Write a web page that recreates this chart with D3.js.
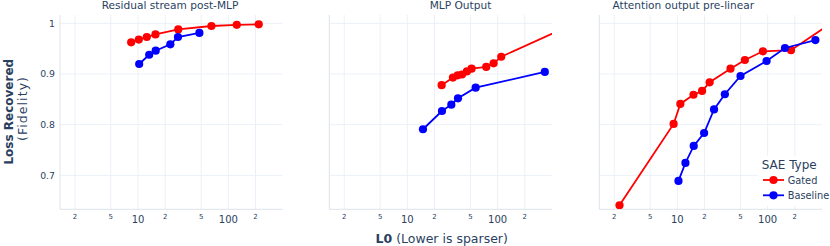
<!DOCTYPE html>
<html>
<head>
<meta charset="utf-8">
<script src="https://cdn.jsdelivr.net/npm/d3@7"></script>
<style>
  body { margin: 0; background: #fff; }
  svg { display: block; font-family: "DejaVu Sans", Verdana, sans-serif; }
</style>
</head>
<body>
<div id="chart"></div>
<script>
// values
var panelTitles = ["Residual stream post-MLP", "MLP Output", "Attention output pre-linear"];
var seriesNames = ["Gated", "Baseline"];
var seriesColors = ["#ff0000", "#0000ff"];

// Residual stream post-MLP
var resGatedL0 = [8.4, 10.2, 12.5, 15.6, 27.9, 65, 124, 217];
var resGatedFid = [0.9625, 0.968, 0.973, 0.978, 0.988, 0.9947, 0.997, 0.998];
var resBaseL0 = [10.3, 13.3, 15.7, 22.8, 27.7, 47.8];
var resBaseFid = [0.9197, 0.938, 0.946, 0.9586, 0.973, 0.981];

// MLP Output (last gated point lies past the right edge)
var mlpGatedL0 = [24.0, 32.0, 36.1, 40.3, 45.7, 51.5, 74.8, 90.3, 109.6, 700];
var mlpGatedFid = [0.878, 0.893, 0.8974, 0.899, 0.905, 0.9105, 0.914, 0.921, 0.934, 0.999];
var mlpBaseL0 = [14.9, 24.2, 30.7, 36.4, 57.1, 333];
var mlpBaseFid = [0.791, 0.827, 0.8395, 0.852, 0.873, 0.904];

// Attention output pre-linear
var attnGatedL0 = [2.29, 9.1, 10.8, 15.1, 18.8, 22.8, 38.8, 56.0, 88.7, 181.6, 600];
var attnGatedFid = [0.641, 0.8014, 0.841, 0.859, 0.8665, 0.8836, 0.9105, 0.9276, 0.9448, 0.947, 1.009];
var attnBaseL0 = [10.3, 12.3, 15.2, 19.8, 25.5, 33.6, 50.1, 97.4, 155.6, 338];
var attnBaseFid = [0.689, 0.7245, 0.758, 0.7836, 0.830, 0.860, 0.896, 0.9256, 0.9513, 0.967];

var yTicks = [0.7, 0.8, 0.9, 1];
var xTicks = [2, 5, 10, 20, 50, 100, 200];
var xTickLabels = ["2", "5", "10", "2", "5", "100", "2"];

var width = 830, height = 246;
var panelLeft = [60, 329.3, 599.3];
var panelW = 222.7;
var plotTop = 15, plotBottom = 209.3;
var titleX = [170, 460.5, 683.3];
var textColor = "#2a3f5f";
var gridColor = "#ebf0f8";

function zip(xs, ys) {
  return xs.map(function(x, i){ return {x: x, y: ys[i]}; });
}

var panels = [
  [zip(resGatedL0, resGatedFid), zip(resBaseL0, resBaseFid)],
  [zip(mlpGatedL0, mlpGatedFid), zip(mlpBaseL0, mlpBaseFid)],
  [zip(attnGatedL0, attnGatedFid), zip(attnBaseL0, attnBaseFid)]
];

var svg = d3.select("#chart")
  .append("svg")
  .attr("width", width)
  .attr("height", height);

var y = d3.scaleLinear().domain([0.633, 1.0164]).range([plotBottom, plotTop]);

panels.forEach(function(series, p) {
  var x = d3.scaleLog().domain([1.368, 400]).range([0, panelW]);

  var g = svg.append("g")
    .attr("transform", "translate(" + panelLeft[p] + ",0)");

  g.append("clipPath")
    .attr("id", "clip" + p)
    .append("rect")
    .attr("x", 0).attr("y", plotTop)
    .attr("width", panelW).attr("height", plotBottom - plotTop);

  // grid
  g.selectAll(".vgrid")
    .data(xTicks)
    .enter().append("line")
    .attr("x1", function(d){ return x(d); })
    .attr("x2", function(d){ return x(d); })
    .attr("y1", plotTop).attr("y2", plotBottom)
    .attr("stroke", gridColor).attr("stroke-width", 1);

  g.selectAll(".hgrid")
    .data(yTicks)
    .enter().append("line")
    .attr("x1", 0).attr("x2", panelW)
    .attr("y1", function(d){ return y(d); })
    .attr("y2", function(d){ return y(d); })
    .attr("stroke", gridColor).attr("stroke-width", 1);

  // axis lines
  g.append("line")
    .attr("x1", 0).attr("x2", 0)
    .attr("y1", plotTop).attr("y2", plotBottom)
    .attr("stroke", "#dde3ec");
  g.append("line")
    .attr("x1", 0).attr("x2", panelW)
    .attr("y1", plotBottom).attr("y2", plotBottom)
    .attr("stroke", "#dde3ec");

  // x tick labels: decades big, 2 and 5 small
  g.selectAll(".xlab")
    .data(xTicks)
    .enter().append("text")
    .attr("x", function(d){ return x(d); })
    .attr("y", function(d){ return (d == 10 || d == 100) ? 222.7 : 219; })
    .attr("text-anchor", "middle")
    .attr("fill", textColor)
    .style("font-size", function(d){ return (d == 10 || d == 100) ? "10px" : "7px"; })
    .text(function(d, i){ return xTickLabels[i]; });

  // y tick labels (first panel only)
  if (p == 0) {
    g.selectAll(".ylab")
      .data(yTicks)
      .enter().append("text")
      .attr("x", -5)
      .attr("y", function(d){ return y(d) + 3.4; })
      .attr("text-anchor", "end")
      .attr("fill", textColor)
      .style("font-size", "9.3px")
      .text(function(d){ return d3.format("~g")(d); });
  }

  // title
  svg.append("text")
    .attr("x", titleX[p])
    .attr("y", 8.8)
    .attr("text-anchor", "middle")
    .attr("fill", textColor)
    .style("font-size", "10.6px")
    .text(panelTitles[p]);

  var line = d3.line()
    .x(function(d){ return x(d.x); })
    .y(function(d){ return y(d.y); });

  var plot = g.append("g").attr("clip-path", "url(#clip" + p + ")");

  series.forEach(function(data, s) {
    plot.append("path")
      .datum(data)
      .attr("fill", "none")
      .attr("stroke", seriesColors[s])
      .attr("stroke-width", 1.8)
      .attr("d", line);

    plot.selectAll(".pt" + s)
      .data(data)
      .enter().append("circle")
      .attr("cx", function(d){ return x(d.x); })
      .attr("cy", function(d){ return y(d.y); })
      .attr("r", 4.1)
      .attr("fill", seriesColors[s]);
  });
});

// y axis title
svg.append("text")
  .attr("transform", "translate(12.5,111.7) rotate(-90)")
  .attr("text-anchor", "middle")
  .attr("fill", textColor)
  .style("font-size", "12px")
  .style("font-weight", "bold")
  .text("Loss Recovered");
svg.append("text")
  .attr("transform", "translate(27,109) rotate(-90)")
  .attr("text-anchor", "middle")
  .attr("fill", textColor)
  .style("font-size", "12.5px")
  .attr("textLength", 64)
  .attr("lengthAdjust", "spacing")
  .text("(Fidelity)");

// x axis title
var xt = svg.append("text")
  .attr("x", 441.7)
  .attr("y", 242.7)
  .attr("text-anchor", "middle")
  .attr("fill", textColor)
  .style("font-size", "12.5px");
xt.append("tspan").style("font-weight", "bold").text("L0");
xt.append("tspan").text(" (Lower is sparser)");

// legend
var legend = svg.append("g");
legend.append("rect")
  .attr("x", 758).attr("y", 156)
  .attr("width", 72).attr("height", 50)
  .attr("fill", "#fff");
legend.append("text")
  .attr("x", 761.7).attr("y", 168.5)
  .attr("fill", textColor)
  .style("font-size", "12px")
  .text("SAE Type");

seriesNames.forEach(function(name, i) {
  var ly = 180 + i * 15.3;
  legend.append("line")
    .attr("x1", 763).attr("x2", 784)
    .attr("y1", ly).attr("y2", ly)
    .attr("stroke", seriesColors[i]).attr("stroke-width", 1.8);
  legend.append("circle")
    .attr("cx", 773.5).attr("cy", ly).attr("r", 4.1)
    .attr("fill", seriesColors[i]);
  legend.append("text")
    .attr("x", 787.7).attr("y", ly + 3.5)
    .attr("fill", textColor)
    .style("font-size", "9.8px")
    .text(name);
});
</script>
</body>
</html>
